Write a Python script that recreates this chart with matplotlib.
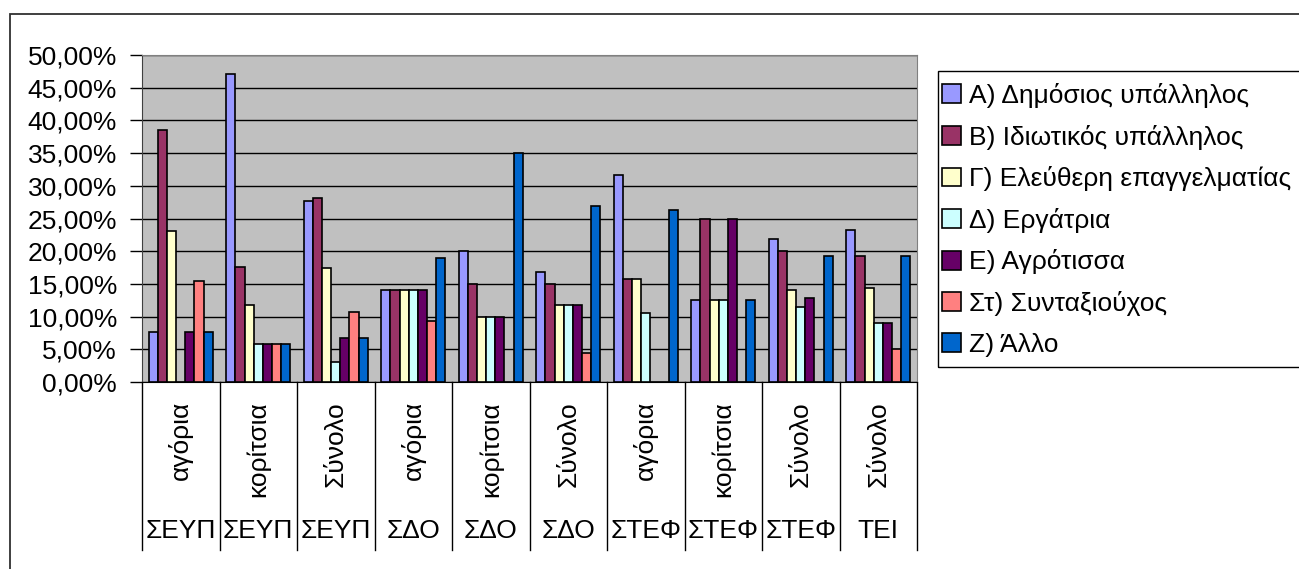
import matplotlib
matplotlib.use("Agg")
import matplotlib.pyplot as plt
import matplotlib.ticker as ticker
from matplotlib.patches import Rectangle
import numpy as np

plt.rcParams['font.family'] = ['Liberation Sans', 'DejaVu Sans']

# --- δεδομένα (ποσοστά %) ---
sub_labels = ["αγόρια", "κορίτσια", "Σύνολο", "αγόρια", "κορίτσια", "Σύνολο",
              "αγόρια", "κορίτσια", "Σύνολο", "Σύνολο"]
group_labels = ["ΣΕΥΠ", "ΣΕΥΠ", "ΣΕΥΠ", "ΣΔΟ", "ΣΔΟ", "ΣΔΟ",
                "ΣΤΕΦ", "ΣΤΕΦ", "ΣΤΕΦ", "ΤΕΙ"]

series_names = ["Α) Δημόσιος υπάλληλος", "Β) Ιδιωτικός υπάλληλος",
                "Γ) Ελεύθερη επαγγελματίας", "Δ) Εργάτρια", "Ε) Αγρότισσα",
                "Στ) Συνταξιούχος", "Ζ) Άλλο"]

dimosios = [7.69, 47.06, 27.6, 14.0, 20.0, 16.8, 31.58, 12.5, 21.9, 23.2]
idiotikos = [38.46, 17.65, 28.1, 14.0, 15.0, 15.0, 15.79, 25.0, 20.1, 19.2]
eleftheri = [23.08, 11.76, 17.4, 14.0, 10.0, 11.8, 15.79, 12.5, 14.0, 14.3]
ergatria = [0.0, 5.88, 3.0, 14.0, 10.0, 11.8, 10.53, 12.5, 11.5, 9.0]
agrotissa = [7.69, 5.88, 6.7, 14.0, 10.0, 11.8, 0.0, 25.0, 12.8, 9.0]
syntaxiouxos = [15.38, 5.88, 10.7, 9.4, 0.0, 4.4, 0.0, 0.0, 0.0, 5.1]
allo = [7.69, 5.88, 6.7, 18.9, 35.0, 26.9, 26.32, 12.5, 19.2, 19.2]

series = [dimosios, idiotikos, eleftheri, ergatria, agrotissa, syntaxiouxos, allo]
colors = ['#9999FF', '#993366', '#FFFFCC', '#CCFFFF', '#660066', '#FF8080', '#0066CC']

W, H = 1299, 569
fs = 19
fig = plt.figure(figsize=(W / 100, H / 100), dpi=100)

# πλαίσιο γραφήματος
fig.patches.append(Rectangle((10 / W, -0.1), 1.2, 1 - 14 / H + 0.1,
                             transform=fig.transFigure, fill=False,
                             edgecolor='#303030', linewidth=1.3))

ax = fig.add_axes([142 / W, 1 - 382 / H, (917 - 142) / W, (382 - 55) / H])
ax.set_facecolor('#C0C0C0')

n = len(series)
x = np.arange(len(sub_labels))
w = 0.118
for i, (vals, c, name) in enumerate(zip(series, colors, series_names)):
    ax.bar(x + (i - (n - 1) / 2) * w, vals, width=w, color=c,
           edgecolor='black', linewidth=1.2, label=name, zorder=3)

ax.set_xlim(-0.5, len(sub_labels) - 0.5)
ax.set_ylim(0, 50)
ax.yaxis.set_major_locator(ticker.MultipleLocator(5))
ax.yaxis.set_major_formatter(ticker.FuncFormatter(lambda v, p: f"{v:.2f}%".replace('.', ',')))
ax.grid(axis='y', color='black', linewidth=1.0, zorder=1)
ax.tick_params(axis='y', labelsize=fs, length=9, width=1, direction='out', pad=9)
ax.set_xticks([])

for s in ['top', 'right']:
    ax.spines[s].set_color('#808080')
ax.spines['left'].set_color('#404040')
ax.spines['bottom'].set_color('black')

# πολυεπίπεδος άξονας κατηγοριών
trans = ax.get_xaxis_transform()
line_bottom = (382 - 550) / (382 - 55)
for b in np.arange(-0.5, len(sub_labels), 1.0):
    ax.plot([b, b], [0, line_bottom], transform=trans, color='black',
            linewidth=1.0, clip_on=False)
for xi, sl, gl in zip(x, sub_labels, group_labels):
    ax.text(xi, (382 - 401) / (382 - 55), sl, transform=trans, rotation=90,
            ha='center', va='top', fontsize=fs)
    ax.text(xi, (382 - 531) / (382 - 55), gl, transform=trans,
            ha='center', va='center', fontsize=fs)

# υπόμνημα
fig.patches.append(Rectangle((938 / W, 1 - 367 / H), 0.5, (367 - 71) / H,
                             transform=fig.transFigure, fill=False,
                             edgecolor='black', linewidth=1.0))
ax.legend(loc='upper left', bbox_to_anchor=(942 / W, 1 - 83 / H),
          bbox_transform=fig.transFigure, frameon=False, fontsize=fs,
          handlelength=0.72, handleheight=0.72, handletextpad=0.3,
          labelspacing=0.63, borderaxespad=0, borderpad=0)

plt.savefig("out.png", dpi=100)
plt.close()
